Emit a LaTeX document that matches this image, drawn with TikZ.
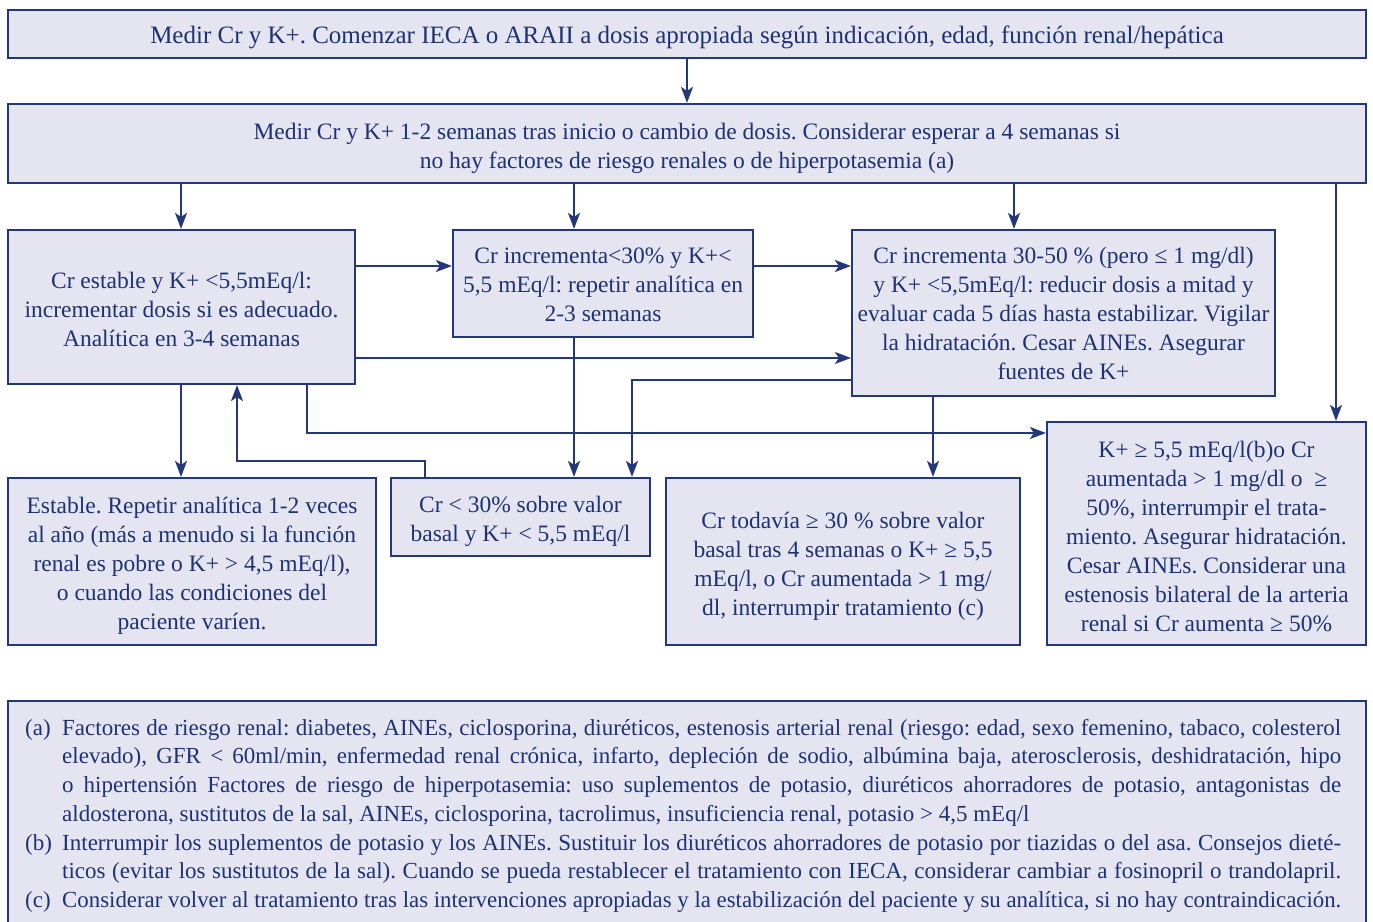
\documentclass[tikz,border=0pt]{standalone}
\usepackage{fontspec}
\setmainfont{Liberation Serif}
\usetikzlibrary{arrows.meta,calc}
\definecolor{navy}{RGB}{35,56,122}
\definecolor{boxfill}{RGB}{228,229,241}
\definecolor{txt}{RGB}{30,50,115}
\frenchspacing
\newsavebox\flbox
\newcommand{\fl}[1]{\sbox\flbox{#1}\ifdim\wd\flbox>1279pt\relax\resizebox{1279pt}{\height}{\usebox\flbox}\else\makebox[1279pt][s]{#1}\fi}
\tikzset{
  box/.style={draw=navy, fill=boxfill, line width=2.2pt, inner sep=0pt},
  btxt/.style={align=center, inner sep=0pt, text=txt, font=\fontsize{23.5}{29}\selectfont},
  arr/.style={draw=navy, line width=2.2pt, -{Stealth[length=16pt,width=12pt,inset=4pt]}},
  fnt/.style={anchor=base west, inner sep=0pt, text=txt, font=\fontsize{23}{28}\selectfont},
}
\begin{document}
\frenchspacing
\begin{tikzpicture}[x=1pt,y=-1pt]
\useasboundingbox (0,0) rectangle (1373,921);
\clip (0,0) rectangle (1373,921);
% column / row helper coordinates
\coordinate (c181) at (181,0);
\coordinate (c237) at (237,0);
\coordinate (c307) at (307,0);
\coordinate (c425) at (425,0);
\coordinate (c574) at (574,0);
\coordinate (c632) at (632,0);
\coordinate (c933) at (933,0);
\coordinate (c1014) at (1014,0);
\coordinate (c1336) at (1336,0);
\coordinate (r266) at (0,266);
\coordinate (r358) at (0,358);
\coordinate (r380) at (0,380);
\coordinate (r433) at (0,433);
\coordinate (r461) at (0,461);

% boxes
\node[box, minimum width=1358pt, minimum height=48pt] (b1) at (687,34) {};
\node[box, minimum width=1358pt, minimum height=79pt] (b2) at (687,143.5) {};
\node[box, minimum width=347pt, minimum height=154pt] (b3) at (181.5,307) {};
\node[box, minimum width=300pt, minimum height=107pt] (b4) at (603,283.5) {};
\node[box, minimum width=423pt, minimum height=166pt] (b5) at (1063.5,313) {};
\node[box, minimum width=368pt, minimum height=167pt] (b6) at (192,561.5) {};
\node[box, minimum width=259pt, minimum height=78pt] (b7) at (520.5,517) {};
\node[box, minimum width=354pt, minimum height=167pt] (b8) at (843,561.5) {};
\node[box, minimum width=319pt, minimum height=223pt] (b9) at (1206.5,533.5) {};
\node[box, minimum width=1358pt, minimum height=240pt, anchor=north] (fn) at (687,700) {};

% box texts
\node[btxt, font=\fontsize{25}{29}\selectfont] (t1) at ([yshift=-3pt]b1.center)
 {Medir Cr y K+. Comenzar IECA o ARAII a dosis apropiada según indicación, edad, función renal/hepática};
\node[btxt] (t2) at ([yshift=-4.5pt]b2.center)
 {Medir Cr y K+ 1-2 semanas tras inicio o cambio de dosis. Considerar esperar a 4 semanas si\\ no hay factores de riesgo renales o de hiperpotasemia (a)};
\node[btxt] (t3) at ([yshift=-2pt]b3.center)
 {Cr estable y K+ <5,5mEq/l:\\ incrementar dosis si es adecuado.\\ Analítica en 3-4 semanas};
\node[btxt] (t4) at ([yshift=-1pt]b4.center)
 {Cr incrementa<30\% y K+<\\ 5,5 mEq/l: repetir analítica en\\ 2-3 semanas};
\node[btxt] (t5) at ([yshift=0pt]b5.center)
 {Cr incrementa 30-50 \% (pero ≤ 1 mg/dl)\\ y K+ <5,5mEq/l: reducir dosis a mitad y\\ evaluar cada 5 días hasta estabilizar. Vigilar\\ la hidratación. Cesar AINEs. Asegurar\\ fuentes de K+};
\node[btxt] (t6) at ([yshift=-4pt]b6.center)
 {Estable. Repetir analítica 1-2 veces\\ al año (más a menudo si la función\\ renal es pobre o K+ > 4,5 mEq/l),\\ o cuando las condiciones del\\ paciente varíen.};
\node[btxt] (t7) at ([yshift=-4pt]b7.center)
 {Cr < 30\% sobre valor\\ basal y K+ < 5,5 mEq/l};
\node[btxt] (t8) at ([yshift=-4.5pt]b8.center)
 {Cr todavía ≥ 30 \% sobre valor\\ basal tras 4 semanas o K+ ≥ 5,5\\ mEq/l, o Cr aumentada > 1 mg/\\ dl, interrumpir tratamiento (c)};
\node[btxt] (t9) at ([yshift=-2.5pt]b9.center)
 {K+ ≥ 5,5 mEq/l(b)o Cr\\ aumentada > 1 mg/dl o \ ≥\\ 50\%, interrumpir el trata-\\ miento. Asegurar hidratación.\\ Cesar AINEs. Considerar una\\ estenosis bilateral de la arteria\\ renal si Cr aumenta ≥ 50\%};

% footnotes
\node[fnt] (la) at (25,735) {(a)};
\node[fnt] (a1) at (62,735) {\fl{Factores de riesgo renal: diabetes, AINEs, ciclosporina, diuréticos, estenosis arterial renal (riesgo: edad, sexo femenino, tabaco, colesterol}};
\node[fnt] (a2) at (62,763.5) {\fl{elevado), GFR < 60ml/min, enfermedad renal crónica, infarto, depleción de sodio, albúmina baja, aterosclerosis, deshidratación, hipo}};
\node[fnt] (a3) at (62,792.5) {\fl{o hipertensión Factores de riesgo de hiperpotasemia: uso suplementos de potasio, diuréticos ahorradores de potasio, antagonistas de}};
\node[fnt] (a4) at (62,821) {aldosterona, sustitutos de la sal, AINEs, ciclosporina, tacrolimus, insuficiencia renal, potasio > 4,5 mEq/l};
\node[fnt] (lb) at (25,850) {(b)};
\node[fnt] (b1l) at (62,850) {\fl{Interrumpir los suplementos de potasio y los AINEs. Sustituir los diuréticos ahorradores de potasio por tiazidas o del asa. Consejos dieté-}};
\node[fnt] (b2l) at (62,878.5) {\fl{ticos (evitar los sustitutos de la sal). Cuando se pueda restablecer el tratamiento con IECA, considerar cambiar a fosinopril o trandolapril.}};
\node[fnt] (lc) at (25,907) {(c)};
\node[fnt] (c1l) at (62,907) {\fl{Considerar volver al tratamiento tras las intervenciones apropiadas y la estabilización del paciente y su analítica, si no hay contraindicación.}};

% connectors
\draw[arr] (b1.south) -- (b2.north);
\draw[arr] (b2.south -| c181) -- (b3.north -| c181);
\draw[arr] (b2.south -| c574) -- (b4.north -| c574);
\draw[arr] (b2.south -| c1014) -- (b5.north -| c1014);
\draw[arr] (b2.south -| c1336) -- (b9.north -| c1336);
\draw[arr] (b3.east |- r266) -- (b4.west |- r266);
\draw[arr] (b4.east |- r266) -- (b5.west |- r266);
\draw[arr] (b3.east |- r358) -- (b5.west |- r358);
\draw[arr] (b5.west |- r380) -| (b7.north -| c632);
\draw[arr] (b4.south -| c574) -- (b7.north -| c574);
\draw[arr] (b3.south -| c181) -- (b6.north -| c181);
\draw[arr] (b7.north -| c425) |- (c237 |- r461) -- (b3.south -| c237);
\draw[arr] (b3.south -| c307) |- (b9.west |- r433);
\draw[arr] (b5.south -| c933) -- (b8.north -| c933);
\end{tikzpicture}
\end{document}
